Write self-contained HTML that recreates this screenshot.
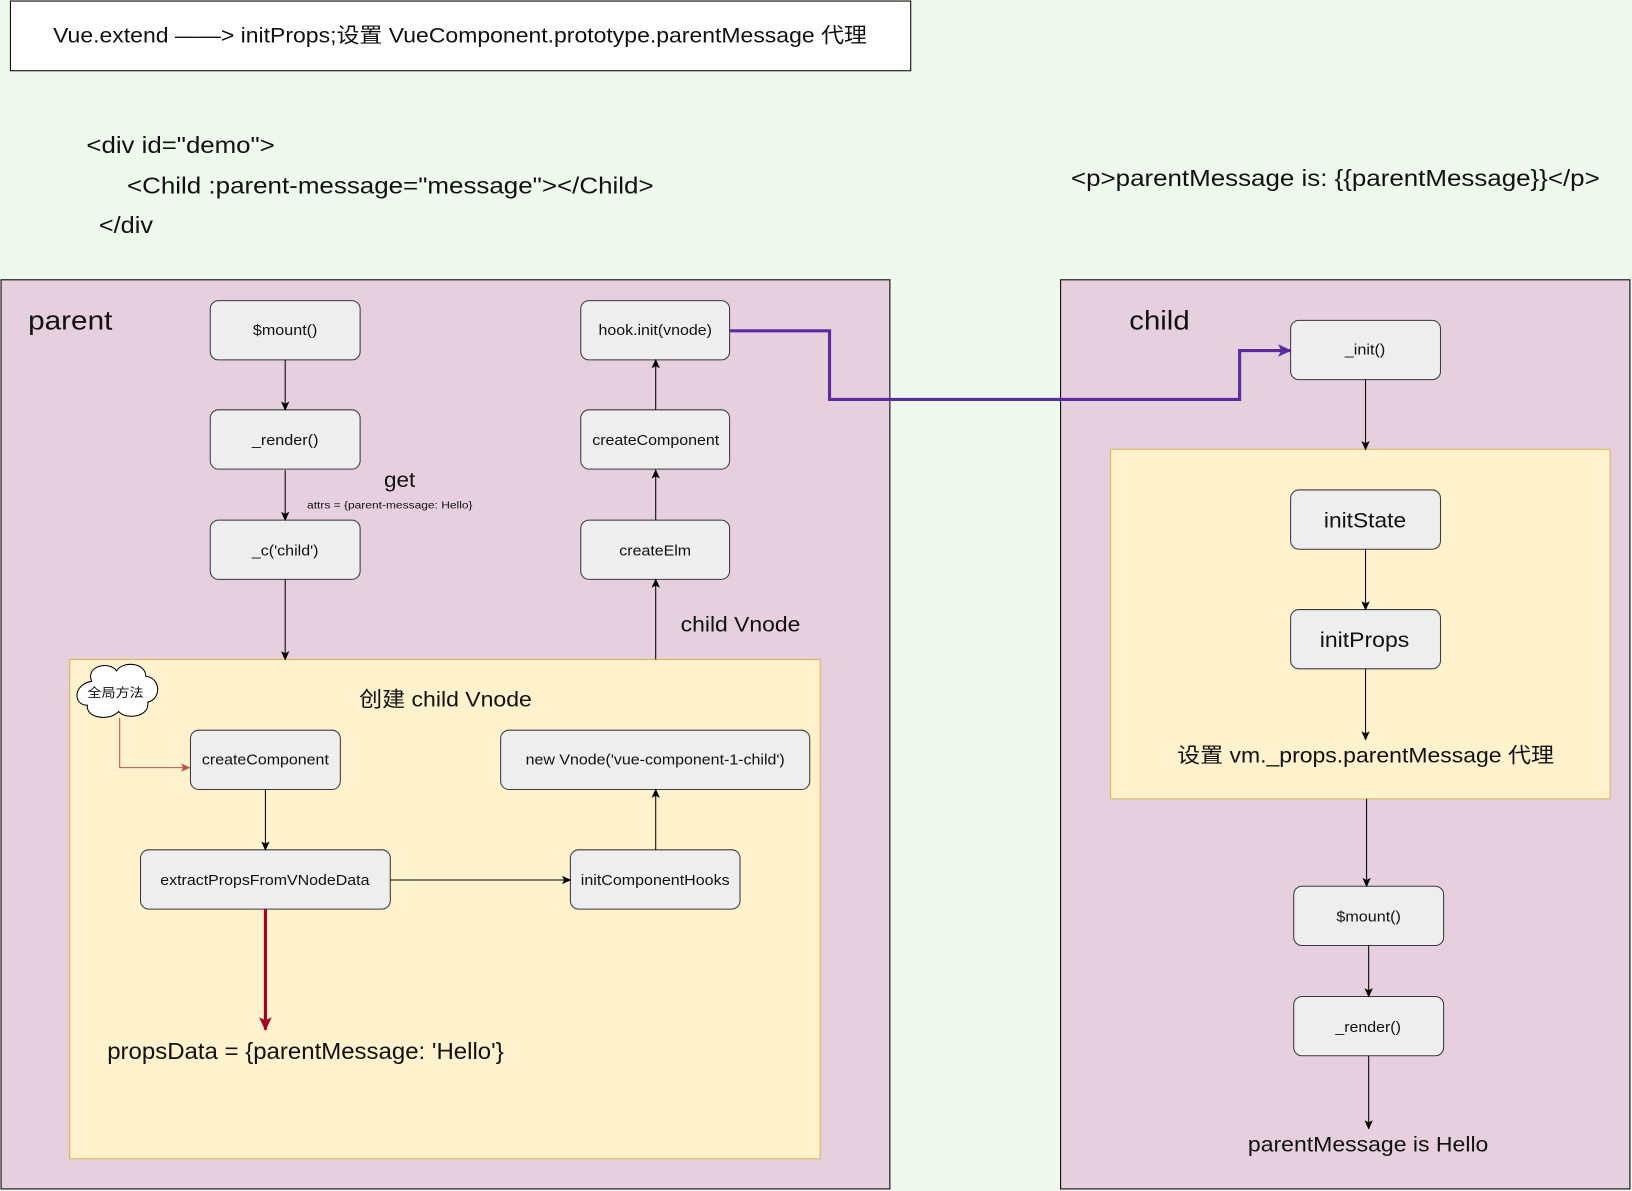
<!DOCTYPE html>
<html><head><meta charset="utf-8"><style>
html,body{margin:0;padding:0;background:#eef8ec;}
svg{display:block;}
text{font-family:"Liberation Sans","Noto Sans CJK SC",sans-serif;fill:#111;}
</style></head><body>
<svg width="1632" height="1191" viewBox="0 0 1568 1145" preserveAspectRatio="none" xmlns="http://www.w3.org/2000/svg">
<defs>
<marker id="a" markerWidth="10" markerHeight="10" refX="8" refY="5" orient="auto" markerUnits="userSpaceOnUse"><path d="M0,1 L9,5 L0,9 L2,5 z" fill="#000"/></marker>
<marker id="r" markerWidth="10" markerHeight="10" refX="8" refY="5" orient="auto" markerUnits="userSpaceOnUse"><path d="M0,1 L9,5 L0,9 L2,5 z" fill="#b85450"/></marker>
<marker id="c" markerWidth="14" markerHeight="16" refX="12" refY="7" orient="auto" markerUnits="userSpaceOnUse"><path d="M0,1 L13,7 L0,13 L3,7 z" fill="#a20025"/></marker>
<marker id="p" markerWidth="14" markerHeight="16" refX="12" refY="7" orient="auto" markerUnits="userSpaceOnUse"><path d="M0,1 L13,7 L0,13 L3,7 z" fill="#5a2ca0"/></marker>
</defs>
<rect x="0" y="0" width="1568" height="1145" fill="#eef8ec"/>
<rect x="10" y="1" width="865" height="67" fill="#fff" stroke="#000"/>
<text x="51" y="41" font-size="20" textLength="782" lengthAdjust="spacingAndGlyphs">Vue.extend ——&gt; initProps;设置 VueComponent.prototype.parentMessage 代理</text>
<text x="83" y="147" font-size="22" textLength="181" lengthAdjust="spacingAndGlyphs">&lt;div id="demo"&gt;</text>
<text x="122" y="186" font-size="22" textLength="506" lengthAdjust="spacingAndGlyphs">&lt;Child :parent-message="message"&gt;&lt;/Child&gt;</text>
<text x="95" y="224" font-size="22" textLength="52" lengthAdjust="spacingAndGlyphs">&lt;/div</text>
<text x="1029" y="179" font-size="22" textLength="508" lengthAdjust="spacingAndGlyphs">&lt;p&gt;parentMessage is: {{parentMessage}}&lt;/p&gt;</text>

<rect x="1" y="269" width="854" height="874" fill="#e6d0de" stroke="#000"/>
<text x="27" y="317" font-size="26" textLength="81" lengthAdjust="spacingAndGlyphs">parent</text>
<rect x="1019" y="269" width="547" height="874" fill="#e6d0de" stroke="#000"/>
<text x="1085" y="317" font-size="26" textLength="58" lengthAdjust="spacingAndGlyphs">child</text>

<rect x="67" y="634" width="721" height="480" fill="#fff2cc" stroke="#d6b656"/>
<rect x="1067" y="432" width="480" height="336" fill="#fff2cc" stroke="#d6b656"/>

<g fill="#eeeeee" stroke="#36393d">
<rect x="202" y="289" width="144" height="57" rx="8"/>
<rect x="202" y="394" width="144" height="57" rx="8"/>
<rect x="202" y="500" width="144" height="57" rx="8"/>
<rect x="558" y="289" width="143" height="57" rx="8"/>
<rect x="558" y="394" width="143" height="57" rx="8"/>
<rect x="558" y="500" width="143" height="57" rx="8"/>
<rect x="183" y="702" width="144" height="57" rx="8"/>
<rect x="481" y="702" width="297" height="57" rx="8"/>
<rect x="135" y="817" width="240" height="57" rx="8"/>
<rect x="548" y="817" width="163" height="57" rx="8"/>
<rect x="1240" y="308" width="144" height="57" rx="8"/>
<rect x="1240" y="471" width="144" height="57" rx="8"/>
<rect x="1240" y="586" width="144" height="57" rx="8"/>
<rect x="1243" y="852" width="144" height="57" rx="8"/>
<rect x="1243" y="958" width="144" height="57" rx="8"/>
</g>
<g font-size="14" lengthAdjust="spacingAndGlyphs">
<text x="243" y="322" textLength="62" lengthAdjust="spacingAndGlyphs">$mount()</text>
<text x="242" y="428" textLength="64" lengthAdjust="spacingAndGlyphs">_render()</text>
<text x="242" y="534" textLength="64" lengthAdjust="spacingAndGlyphs">_c('child')</text>
<text x="575" y="322" textLength="109" lengthAdjust="spacingAndGlyphs">hook.init(vnode)</text>
<text x="569" y="428" textLength="122" lengthAdjust="spacingAndGlyphs">createComponent</text>
<text x="595" y="534" textLength="69" lengthAdjust="spacingAndGlyphs">createElm</text>
<text x="194" y="735" textLength="122" lengthAdjust="spacingAndGlyphs">createComponent</text>
<text x="505" y="735" textLength="249" lengthAdjust="spacingAndGlyphs">new Vnode('vue-component-1-child')</text>
<text x="154" y="851" textLength="201" lengthAdjust="spacingAndGlyphs">extractPropsFromVNodeData</text>
<text x="558" y="851" textLength="143" lengthAdjust="spacingAndGlyphs">initComponentHooks</text>
<text x="1292" y="341" textLength="39" lengthAdjust="spacingAndGlyphs">_init()</text>
<text x="1284" y="886" textLength="62" lengthAdjust="spacingAndGlyphs">$mount()</text>
<text x="1283" y="992" textLength="63" lengthAdjust="spacingAndGlyphs">_render()</text>
</g>
<g font-size="20">
<text x="1272" y="507" textLength="79" lengthAdjust="spacingAndGlyphs">initState</text>
<text x="1268" y="622" textLength="86" lengthAdjust="spacingAndGlyphs">initProps</text>
<text x="1131" y="733" textLength="362" lengthAdjust="spacingAndGlyphs">设置 vm._props.parentMessage 代理</text>
<text x="1199" y="1107" textLength="231" lengthAdjust="spacingAndGlyphs">parentMessage is Hello</text>
<text x="345" y="679" textLength="166" lengthAdjust="spacingAndGlyphs">创建 child Vnode</text>
</g>
<text x="369" y="468" font-size="20" textLength="30" lengthAdjust="spacingAndGlyphs">get</text>
<text x="295" y="489" font-size="10" textLength="159" lengthAdjust="spacingAndGlyphs">attrs = {parent-message: Hello}</text>
<text x="654" y="607" font-size="20" textLength="115" lengthAdjust="spacingAndGlyphs">child Vnode</text>
<text x="103" y="1018" font-size="22" textLength="381" lengthAdjust="spacingAndGlyphs">propsData = {parentMessage: 'Hello'}</text>

<g stroke="#000" stroke-width="1" fill="none" marker-end="url(#a)">
<path d="M274 346V394"/><path d="M274 452V500"/><path d="M274 557V634"/>
<path d="M630 634V557"/><path d="M630 500V452"/><path d="M630 394V346"/>
<path d="M255 759V817"/><path d="M375 846H548"/><path d="M630 817V759"/>
<path d="M1312 365V432"/><path d="M1312 528V586"/><path d="M1312 643V711"/>
<path d="M1313 768V852"/><path d="M1315 909V958"/><path d="M1315 1015V1085"/>
</g>
<path d="M115 690V738H182" stroke="#b85450" fill="none" marker-end="url(#r)"/>
<path d="M255 874V990" stroke="#a20025" stroke-width="3" fill="none" marker-end="url(#c)"/>
<path d="M701 318H797V384H1191V337H1240" stroke="#5a2ca0" stroke-width="3" fill="none" marker-end="url(#p)"/>

<path d="M88 655 C82 640,105 635,112 645 C118 635,140 637,140 650 C155 652,155 672,142 675 C144 690,120 692,114 684 C105 694,82 690,84 678 C70 678,70 658,88 655 Z" fill="#fff" stroke="#000"/>
<text x="84" y="670" font-size="12" textLength="54" lengthAdjust="spacingAndGlyphs">全局方法</text>
</svg>
</body></html>
